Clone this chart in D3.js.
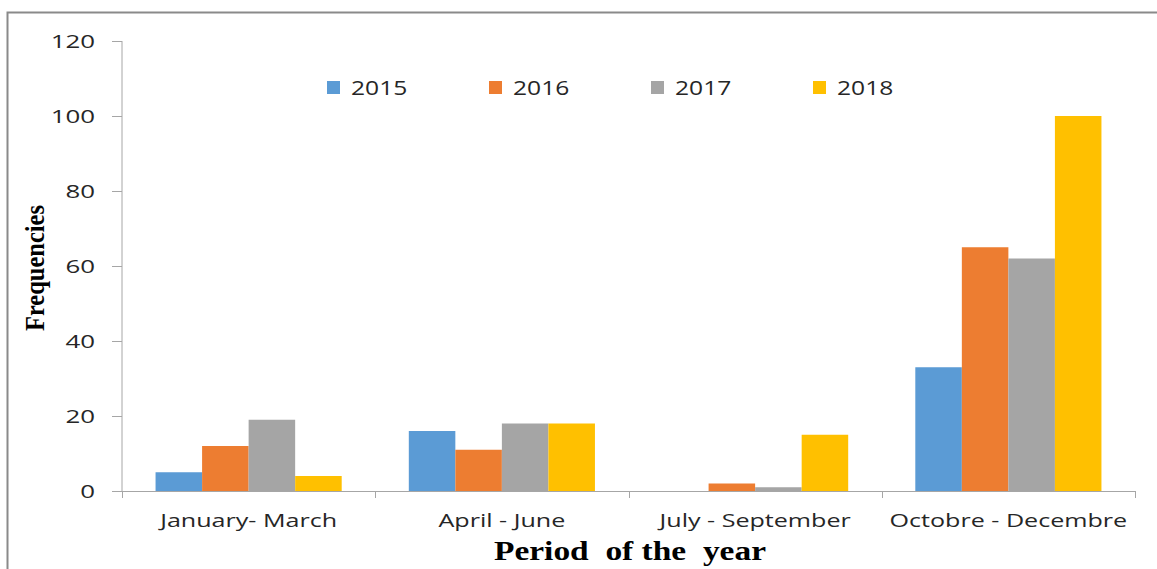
<!DOCTYPE html>
<html><head><meta charset="utf-8">
<script src="https://cdn.jsdelivr.net/npm/d3@7"></script>
<style>body{margin:0;background:#fff}svg{display:block}</style>
</head><body>
<svg id="c" width="1157" height="569"></svg>
<script>
const categories = ["January- March", "April - June", "July - September", "Octobre - Decembre"];
const seriesNames = ["2015", "2016", "2017", "2018"];
const v2015 = [5, 16, 0, 33];
const v2016 = [12, 11, 2, 65];
const v2017 = [19, 18, 1, 62];
const v2018 = [4, 18, 15, 100];
const yTicks = [0, 20, 40, 60, 80, 100, 120];
const colors = ["#5B9BD5", "#ED7D31", "#A5A5A5", "#FFC000"];
const series = [v2015, v2016, v2017, v2018];

const svg = d3.select("#c");
const FONT = "'Open Sans', sans-serif";
function stretch(sel, f) {
  sel.each(function () {
    const w = this.getComputedTextLength();
    d3.select(this).attr("textLength", w * f).attr("lengthAdjust", "spacingAndGlyphs");
  });
}

// outer frame
svg.append("path").attr("d", "M7.5,569 V12.5 H1157").attr("fill", "none").attr("stroke", "#8a8a8a").attr("stroke-width", 2);

const x0 = d3.scaleBand().domain(categories).range([122, 1135]).paddingInner(0.265).paddingOuter(0.1325);
const x1 = d3.scaleBand().domain(seriesNames).range([0, x0.bandwidth()]);
const y = d3.scaleLinear().domain([0, 120]).range([491, 41]);

// bars
categories.forEach((c, ci) => {
  seriesNames.forEach((s, si) => {
    const val = series[si][ci];
    svg.append("rect")
      .attr("x", x0(c) + x1(s))
      .attr("y", y(val))
      .attr("width", x1.bandwidth())
      .attr("height", y(0) - y(val))
      .attr("fill", colors[si]);
  });
});

// y axis
const yAxis = svg.append("g").attr("transform", "translate(122,0)")
  .call(d3.axisLeft(y).tickValues(yTicks).tickSize(10).tickPadding(17));
yAxis.select(".domain").attr("stroke", "#a6a6a6").attr("d", "M0," + y(120) + "V" + y(0));
yAxis.selectAll(".tick line").attr("stroke", "#a6a6a6");
yAxis.selectAll("text").attr("font-family", FONT).attr("font-size", 19).attr("fill", "#262626");
stretch(yAxis.selectAll("text"), 1.36);

// x axis
const xAxisG = svg.append("g");
xAxisG.append("line").attr("x1", 122).attr("x2", 1135).attr("y1", y(0) + 0.5).attr("y2", y(0) + 0.5).attr("stroke", "#a6a6a6");
const bounds = categories.map(c => x0(c) - x0.step() * x0.paddingInner() / 2);
bounds.push(1135);
bounds.forEach(b => {
  xAxisG.append("line").attr("x1", Math.round(b) + 0.5).attr("x2", Math.round(b) + 0.5).attr("y1", y(0)).attr("y2", y(0) + 7).attr("stroke", "#a6a6a6");
});
const xl = xAxisG.selectAll("text.cat").data(categories).enter().append("text")
  .attr("class", "cat")
  .attr("x", c => x0(c) + x0.bandwidth() / 2).attr("y", 527)
  .attr("text-anchor", "middle").attr("font-family", FONT)
  .attr("font-size", 19).attr("fill", "#262626").text(c => c);
stretch(xl, 1.32);

// legend
const legendX = [327, 489, 651, 813];
seriesNames.forEach((s, i) => {
  svg.append("rect").attr("x", legendX[i]).attr("y", 81).attr("width", 13).attr("height", 13).attr("fill", colors[i]);
  const t = svg.append("text").attr("x", legendX[i] + 24).attr("y", 95).attr("font-family", FONT)
    .attr("font-size", 20).attr("fill", "#262626").text(s);
  stretch(t, 1.23);
});

// axis titles
svg.append("text").attr("x", 630).attr("y", 560).attr("text-anchor", "middle")
  .style("white-space", "pre")
  .attr("font-family", "'Liberation Serif', 'Times New Roman', serif").attr("font-weight", "bold")
  .attr("font-size", 27).attr("textLength", 272).attr("lengthAdjust", "spacingAndGlyphs")
  .attr("fill", "#000").text("Period  of the  year");
svg.append("text").attr("transform", "translate(44,268) rotate(-90)").attr("text-anchor", "middle")
  .attr("font-family", "'Liberation Serif', 'Times New Roman', serif").attr("font-weight", "bold")
  .attr("font-size", 27).attr("textLength", 126).attr("lengthAdjust", "spacingAndGlyphs")
  .attr("fill", "#000").text("Frequencies");
</script>
</body></html>
